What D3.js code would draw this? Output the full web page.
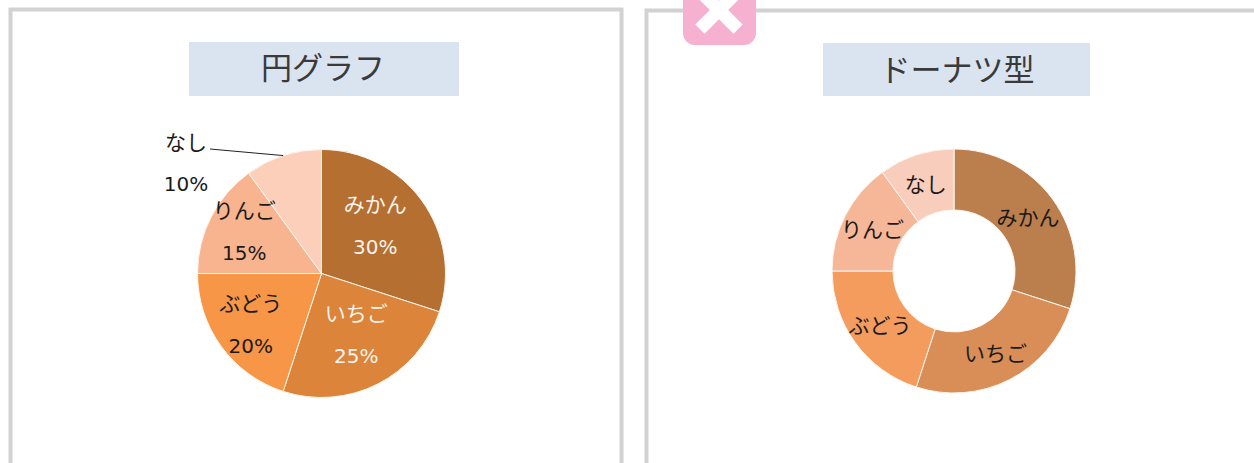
<!DOCTYPE html>
<html lang="ja">
<head>
<meta charset="utf-8">
<title>円グラフ</title>
<script src="https://cdn.jsdelivr.net/npm/d3@7"></script>
<style>
    html, body { margin: 0; padding: 0; background: #fff; overflow: hidden; }
    svg { display: block; }
    text { font-family: "DejaVu Sans", "Noto Sans CJK JP", sans-serif; text-anchor: middle; dominant-baseline: central; }
    .title { font-family: "Noto Sans CJK JP", sans-serif; font-size: 31px; fill: #3a3a3a; }
    .label { font-size: 21px; }
    .value { font-size: 20px; }
</style>
</head>
<body>
<script>
'use strict';

var categories  = ['みかん', 'いちご', 'ぶどう', 'りんご', 'なし'];
var shares      = [30, 25, 20, 15, 10];
var pieColors   = ['#b56f30', '#db843a', '#f79646', '#f8b48e', '#fbcfba'];
var donutColors = ['#bb7f4e', '#d98e57', '#f49c5e', '#f6b698', '#f9cdbb'];
var pieText     = ['#f7f3ee', '#f7f3ee', '#1a1a1a', '#1a1a1a', '#1a1a1a'];

var svg = d3.select('body').append('svg')
    .attr('width', 1254)
    .attr('height', 463);

var slices = d3.pie().sort(null)(shares);

// Frames, they run off the page at the bottom and on the right.
svg.append('rect')
    .attr('x', 10.5).attr('y', 9.5).attr('width', 611).attr('height', 480)
    .attr('fill', 'none').attr('stroke', '#d2d2d2').attr('stroke-width', 4);
svg.append('rect')
    .attr('x', 646.5).attr('y', 10.5).attr('width', 640).attr('height', 480)
    .attr('fill', 'none').attr('stroke', '#d2d2d2').attr('stroke-width', 4);

// Pink tab with the cross.
svg.append('rect')
    .attr('x', 683).attr('y', -30).attr('width', 73).attr('height', 75).attr('rx', 12)
    .attr('fill', '#f6b1d1');
[45, -45].forEach(function (angle) {
    svg.append('rect')
        .attr('x', -27).attr('y', -6.5).attr('width', 54).attr('height', 13)
        .attr('transform', 'translate(719,10) rotate(' + angle + ')')
        .attr('fill', '#fff');
});

// Title boxes.
function drawTitle(x, y, width, height, text, textX, textY) {
    svg.append('rect')
        .attr('x', x).attr('y', y).attr('width', width).attr('height', height)
        .attr('fill', '#dae3f0');
    svg.append('text').attr('class', 'title')
        .attr('x', textX).attr('y', textY)
        .text(text);
}

drawTitle(189, 42, 270, 54, '円グラフ', 323, 65);
drawTitle(823, 43, 267, 53, 'ドーナツ型', 957, 67);

// Pie on the left.
var pieArc = d3.arc().innerRadius(0).outerRadius(124);
var pieEdge = d3.arc().innerRadius(124).outerRadius(124);
var pieGroup = svg.append('g').attr('transform', 'translate(321.5,273.5)');

pieGroup.selectAll('.slice')
    .data(slices)
    .enter().append('path')
    .attr('class', 'slice')
    .attr('d', pieArc)
    .attr('fill', function (d, i) { return pieColors[i]; })
    .attr('stroke', '#fdf6ef')
    .attr('stroke-width', 1);

// Label centres relative to the arc centroid, these were placed by hand in the original.
var pieNudge = [[3.5, -11.5], [6.5, 6.5], [-20.5, 15.5], [-22, -13.5]];

var pieLabels = pieGroup.selectAll('.pie-label')
    .data(slices.slice(0, 4))
    .enter().append('g')
    .attr('class', 'pie-label')
    .attr('transform', function (d, i) {
        var c = pieArc.centroid(d);
        return 'translate(' + (c[0] + pieNudge[i][0]) + ',' + (c[1] + pieNudge[i][1]) + ')';
    })
    .attr('fill', function (d, i) { return pieText[i]; });

pieLabels.append('text').attr('class', 'label').attr('y', -21)
    .text(function (d, i) { return categories[i]; });
pieLabels.append('text').attr('class', 'value').attr('y', 21)
    .text(function (d) { return d.value + '%'; });

// The last slice has its label outside, with a leader to the middle of its arc.
var outside = svg.append('g').attr('fill', '#1a1a1a');
outside.append('text').attr('class', 'label').attr('x', 186).attr('y', 143).text(categories[4]);
outside.append('text').attr('class', 'value').attr('x', 186).attr('y', 184).text(shares[4] + '%');
pieGroup.append('line')
    .attr('x1', -111.5).attr('y1', -124.5)
    .attr('x2', pieEdge.centroid(slices[4])[0]).attr('y2', pieEdge.centroid(slices[4])[1])
    .attr('stroke', '#222').attr('stroke-width', 1);

// Doughnut on the right.
var donutArc = d3.arc().innerRadius(61).outerRadius(122);
var donutGroup = svg.append('g').attr('transform', 'translate(954,271)');

donutGroup.selectAll('.slice')
    .data(slices)
    .enter().append('path')
    .attr('class', 'slice')
    .attr('d', donutArc)
    .attr('fill', function (d, i) { return donutColors[i]; })
    .attr('stroke', '#fdf6ef')
    .attr('stroke-width', 1);

donutGroup.selectAll('.donut-label')
    .data(slices)
    .enter().append('text')
    .attr('class', 'label donut-label')
    .attr('fill', '#1a1a1a')
    .attr('y', 1)
    .attr('transform', function (d) { return 'translate(' + donutArc.centroid(d) + ')'; })
    .text(function (d, i) { return categories[i]; });
</script>
</body>
</html>
